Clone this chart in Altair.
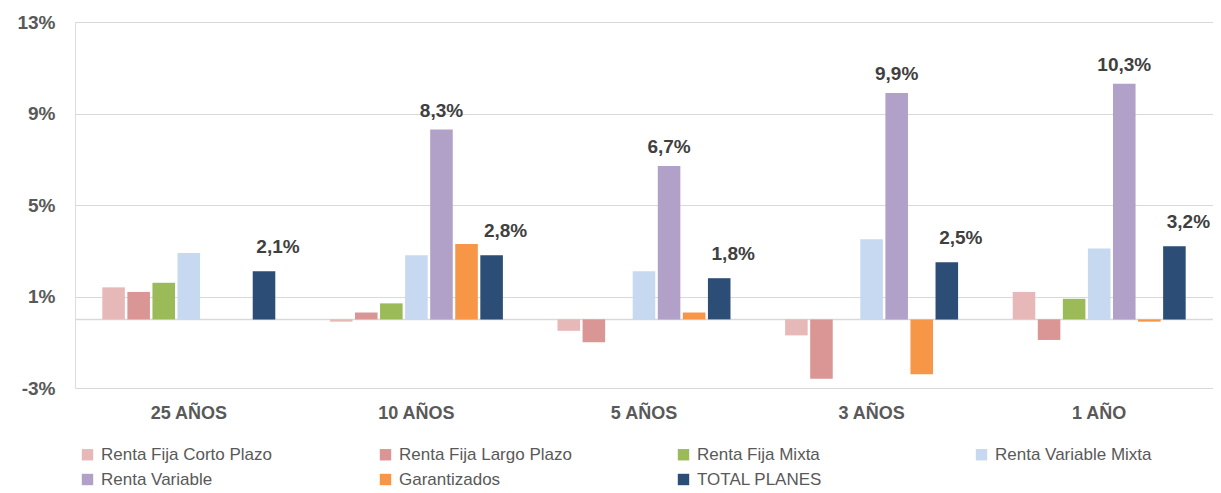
import altair as alt
import pandas as pd

periods = ["25 AÑOS", "10 AÑOS", "5 AÑOS", "3 AÑOS", "1 AÑO"]
series = ["Renta Fija Corto Plazo", "Renta Fija Largo Plazo", "Renta Fija Mixta",
          "Renta Variable Mixta", "Renta Variable", "Garantizados", "TOTAL PLANES"]
colors = ["#E6B9B8", "#D99694", "#9BBB59", "#C6D9F1", "#B1A0C7", "#F79646", "#2C4D75"]

rfcp = [1.4, -0.1, -0.5, -0.7, 1.2]
rflp = [1.2, 0.3, -1.0, -2.6, -0.9]
rfm = [1.6, 0.7, None, None, 0.9]
rvm = [2.9, 2.8, 2.1, 3.5, 3.1]
rv = [None, 8.3, 6.7, 9.9, 10.3]
gar = [None, 3.3, 0.3, -2.4, -0.1]
total = [2.1, 2.8, 1.8, 2.5, 3.2]

y_ticks = [-3, 1, 5, 9, 13]

rows = []
for s, vals in zip(series, [rfcp, rflp, rfm, rvm, rv, gar, total]):
    for p, v in zip(periods, vals):
        if v is not None:
            rows.append({"periodo": p, "serie": s, "valor": v})
df = pd.DataFrame(rows)

FONT = "Liberation Sans"

x = alt.X("periodo:N", sort=periods, title=None,
          scale=alt.Scale(paddingInner=0.24, paddingOuter=0.12),
          axis=alt.Axis(labelAngle=0, domain=False, ticks=False, labelPadding=16,
                        labelFontSize=18, labelFontWeight="bold", labelColor="#595959",
                        labelFont=FONT))
xo = alt.XOffset("serie:N", sort=series,
                 scale=alt.Scale(domain=series, paddingInner=0.1, paddingOuter=0))
y = alt.Y("valor:Q", title=None,
          scale=alt.Scale(domain=[-3, 13], nice=False, zero=False),
          axis=alt.Axis(values=y_ticks, labelExpr="datum.value + '%'", domain=False,
                        ticks=False, labelPadding=20, labelFontSize=19,
                        labelFontWeight="bold", labelColor="#595959", labelFont=FONT,
                        gridColor="#D9D9D9", gridWidth=1.2))

base = alt.Chart(df)

bars = base.mark_bar().encode(
    x=x, xOffset=xo, y=y,
    color=alt.Color("serie:N", sort=series,
                    scale=alt.Scale(domain=series, range=colors),
                    legend=alt.Legend(title=None, orient="none", legendX=4, legendY=424,
                                      direction="horizontal",
                                      columns=4, gridAlign="all", columnPadding=103,
                                      rowPadding=7, symbolType="square", symbolSize=130,
                                      symbolStrokeWidth=0, labelFontSize=17,
                                      labelColor="#595959", labelFont=FONT,
                                      labelOffset=5, labelLimit=300)),
)

zero = alt.Chart(pd.DataFrame({"z": [0]})).mark_rule(color="#D9D9D9", strokeWidth=1.5).encode(
    y=alt.Y("z:Q", scale=alt.Scale(domain=[-3, 13], nice=False, zero=False)))

lbl_expr = "replace(format(datum.valor, '.1f'), '.', ',') + '%'"

rv_labels = base.transform_filter(alt.datum.serie == "Renta Variable").transform_calculate(
    lbl=lbl_expr).mark_text(baseline="bottom", dy=-9, fontSize=19, fontWeight="bold",
                            color="#404040", font=FONT).encode(
    x=x, xOffset=xo, y=y, text="lbl:N")

tot_labels = base.transform_filter(alt.datum.serie == "TOTAL PLANES").transform_calculate(
    lbl=lbl_expr).mark_text(baseline="bottom", dy=-14, dx=14, fontSize=19, fontWeight="bold",
                            color="#404040", font=FONT).encode(
    x=x, xOffset=xo, y=y, text="lbl:N")

chart = alt.layer(zero, bars, rv_labels, tot_labels).properties(
    width=1138, height=366,
    autosize=alt.AutoSizeParams(type="none"),
    padding={"left": 67, "top": 14, "right": 0, "bottom": 102},
).configure_view(stroke=None).configure(background="white")

chart.save("out.html", embed_options={"renderer": "svg", "actions": False})
